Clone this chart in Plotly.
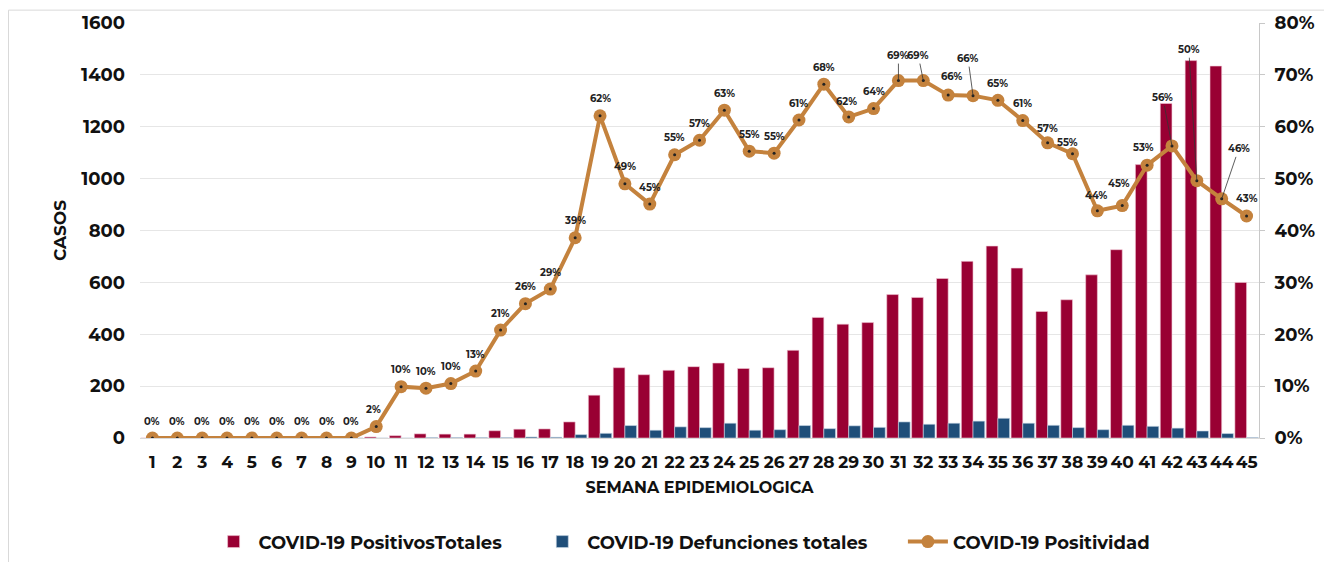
import plotly.graph_objects as go

# semanas epidemiologicas
semanas = [str(i) for i in range(1, 46)]

# casos positivos totales por semana
positivos = [0, 0, 0, 0, 0, 0, 0, 0, 0, 4, 9, 16, 15, 15, 28, 34, 35, 62,
             165, 271, 244, 261, 275, 289, 268, 271, 338, 465, 439, 445,
             553, 542, 615, 681, 740, 655, 488, 533, 629, 726, 1054, 1290,
             1455, 1434, 600]

# defunciones totales por semana
defunciones = [0, 0, 0, 0, 0, 0, 0, 0, 0, 0, 0, 2, 2, 2, 2, 4, 3, 13,
               18, 48, 30, 43, 40, 57, 30, 32, 48, 36, 47, 41,
               62, 53, 57, 65, 76, 57, 49, 40, 32, 49, 45, 38,
               27, 17, 2]

# positividad (%)
positividad = [0, 0, 0, 0, 0, 0, 0, 0, 0, 2.2, 9.9, 9.6, 10.5, 12.9, 20.8,
               25.9, 28.7, 38.6, 62.1, 49.0, 45.1, 54.6, 57.4, 63.2, 55.3,
               54.9, 61.3, 68.2, 61.9, 63.5, 68.9, 68.9, 66.1, 66.0, 65.1,
               61.2, 56.9, 54.8, 43.8, 44.8, 52.6, 56.3, 49.6, 46.1, 42.8]

FONT = "Montserrat, 'Open Sans', 'Noto Sans', sans-serif"
ROJO = "#990033"
AZUL = "#1F4E79"
NARANJA = "#C4823D"
ESP = "\u00a0" * 6  # separacion entre elementos de la leyenda

fig = go.Figure()

fig.add_trace(go.Bar(
    x=semanas, y=positivos, name="COVID-19 PositivosTotales" + ESP,
    marker=dict(color=ROJO, line=dict(color="#f2c9d6", width=0.6))))
fig.add_trace(go.Bar(
    x=semanas, y=defunciones, name="COVID-19 Defunciones totales" + ESP,
    marker=dict(color=AZUL, line=dict(color="#c9d6e6", width=0.6))))
fig.add_trace(go.Scatter(
    x=semanas, y=[v / 100 for v in positividad], yaxis="y2",
    name="COVID-19 Positividad", mode="lines+markers",
    line=dict(color=NARANJA, width=4),
    marker=dict(color=NARANJA, size=13)))
# punto negro al centro de cada marcador
fig.add_trace(go.Scatter(
    x=semanas, y=[v / 100 for v in positividad], yaxis="y2",
    mode="markers", showlegend=False, hoverinfo="skip",
    marker=dict(color="#222222", size=3)))

# desplazamiento de etiquetas (px); algunas llevan linea guia
offsets = {10: (-3, -17), 29: (-2, -15), 31: (0, -25), 32: (-5, -25),
           33: (4, -19), 34: (-5, -37), 37: (0, -14), 38: (-5, -11),
           39: (-1, -15), 40: (-3, -22), 41: (-4, -18), 42: (-9, -48),
           43: (-8, -131), 44: (17, -50)}
guias = {31, 32, 34, 42, 43, 44}

annotations = []
for i, v in enumerate(positividad):
    sem = i + 1
    ax, ay = offsets.get(sem, (0, -17))
    # en eje de categorias la posicion se da por indice
    annotations.append(dict(
        x=i, y=v / 100, xref="x", yref="y2",
        text=f"{round(v)}%", showarrow=True, ax=ax, ay=ay,
        arrowhead=0, arrowwidth=0.8,
        arrowcolor="#333333" if sem in guias else "rgba(0,0,0,0)",
        font=dict(family=FONT, size=10, color="#222222", weight=700)))

fig.update_layout(
    width=1332, height=562,
    margin=dict(l=132, r=81, t=15, b=132),
    paper_bgcolor="white", plot_bgcolor="white",
    font=dict(family=FONT, color="#111111", weight=700),
    barmode="group", bargap=0.06, bargroupgap=0,
    annotations=annotations,
    xaxis=dict(
        type="category", range=[-0.5, 44.5], tickangle=0, automargin=False,
        tickfont=dict(size=17, weight=700),
        ticklabelstandoff=9, showgrid=False,
        showline=True, linecolor="#d9d9d9",
        title=dict(text="SEMANA EPIDEMIOLOGICA", standoff=10,
                   font=dict(size=16, weight=700))),
    yaxis=dict(
        range=[0, 1600], dtick=200, automargin=False,
        tickfont=dict(size=18, weight=700),
        gridcolor="#e6e6e6", zeroline=False, ticklabelstandoff=14,
        title=dict(text="CASOS", standoff=10,
                   font=dict(size=17, weight=700))),
    yaxis2=dict(
        overlaying="y", side="right", range=[0, 0.8], dtick=0.1,
        automargin=False,
        tickformat=".0%", showgrid=False, zeroline=False,
        showline=True, linecolor="#c8c8c8",
        ticks="outside", ticklen=5, tickcolor="#c8c8c8",
        ticklabelstandoff=6,
        tickfont=dict(size=18, weight=700)),
    legend=dict(orientation="h", x=0.484, xanchor="center",
                yref="container", y=0.05, yanchor="middle", itemwidth=40,
                font=dict(size=18, weight=700)),
    shapes=[dict(type="rect", xref="paper", yref="paper",
                 x0=-0.1175, x1=1.08, y0=-0.35, y1=1.031,
                 line=dict(color="#d9d9d9", width=1), layer="below")],
)

fig.write_html("out.html")
